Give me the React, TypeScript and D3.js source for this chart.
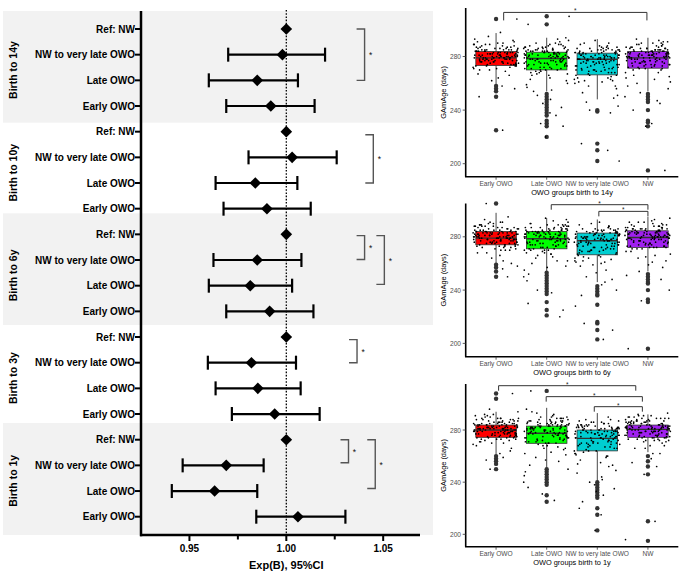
import React from "react";
import * as d3 from "d3";

// ---------------- Forest plot data ----------------
const forestGroups = ["Birth to 14y", "Birth to 10y", "Birth to 6y", "Birth to 3y", "Birth to 1y"];
const forestRows = ["Ref: NW", "NW to very late OWO", "Late OWO", "Early OWO"];
const estimates = [
  [1.0, 0.998, 0.985, 0.992],
  [1.0, 1.003, 0.984, 0.99],
  [1.0, 0.985, 0.9814, 0.9914],
  [1.0, 0.982, 0.9853, 0.994],
  [1.0, 0.969, 0.963, 1.006],
];
const lowerCI = [
  [null, 0.97, 0.96, 0.969],
  [null, 0.9805, 0.9635, 0.9676],
  [null, 0.9624, 0.96, 0.969],
  [null, 0.9595, 0.9635, 0.9719],
  [null, 0.9465, 0.9409, 0.9845],
];
const upperCI = [
  [null, 1.02, 1.006, 1.0146],
  [null, 1.026, 1.0057, 1.0126],
  [null, 1.0078, 1.003, 1.014],
  [null, 1.005, 1.0074, 1.0172],
  [null, 0.9883, 0.985, 1.0305],
];
// shaded facets: [firstRow, lastRow] extents in row units
const shadedBands = [
  [-0.7, 3.65],
  [7.18, 11.53],
  [15.35, 19.71],
];
// significance brackets: [group, fromRow, toRow, x value]
const forestBrackets = [
  [0, 0, 2, 1.0404],
  [1, 0.12, 2, 1.0449],
  [2, 0.05, 0.98, 1.0404],
  [2, 0.05, 1.95, 1.0506],
  [3, 0.1, 1.0, 1.0365],
  [4, 0.0, 0.9, 1.0321],
  [4, 0.0, 1.9, 1.0459],
];
const forestMajorTicks = [0.95, 1.0, 1.05];
const forestMinorTicks = [0.975, 1.025];

// ---------------- Box plot data ----------------
const boxCategories = ["Early OWO", "Late OWO", "NW to very late OWO", "NW"];
const boxColors = ["#FF0000", "#00FF00", "#00CED1", "#A020F0"];
const boxTitles = ["OWO groups birth to 14y", "OWO groups birth to 6y", "OWO groups birth to 1y"];
const boxYTicks = [200, 240, 280];

// [lower whisker, q1, median, q3, upper whisker]
const stats14 = [
  [259, 273.3, 279, 283.7, 297.5],
  [254, 270, 278.5, 283.2, 294],
  [248, 266.3, 278, 282.5, 293],
  [254, 271.3, 279, 283.7, 294],
];
const stats6 = [
  [260, 274, 279, 284, 298],
  [254, 271, 278.5, 284, 294],
  [246, 266.5, 277, 282.8, 293],
  [254, 272, 279.5, 284.5, 295],
];
const stats1 = [
  [261, 274.4, 280, 283.8, 294],
  [251, 269.8, 277.5, 283, 297],
  [241, 264, 273.6, 280, 293],
  [263, 274.4, 280.5, 283.8, 292],
];

const outliers14 = [
  [308, 258, 256, 254, 250, 225],
  [310, 304, 252, 250, 248, 246, 244, 242, 240, 238, 236, 232, 230, 228, 220],
  [240, 239, 215, 210, 202],
  [252, 250, 248, 246, 240, 232, 231, 228, 195],
];
const outliers6 = [
  [305, 259, 257, 254, 250],
  [253, 251, 249, 247, 245, 243, 241, 239, 237, 231, 225, 221],
  [243, 241, 239, 237, 236, 229, 216, 215, 210, 203],
  [252, 250, 248, 246, 245, 240, 233, 231, 196],
];
const outliers1 = [
  [308, 304, 260, 258, 256, 254, 250],
  [310, 250, 248, 246, 244, 242, 240, 238, 230, 225],
  [240, 238, 236, 234, 232, 230, 228, 220, 215, 203],
  [260, 256, 252, 246, 210, 195],
];

const jitterOffsets = [
  -0.31, 0.12, 0.38, -0.05, 0.27, -0.42, 0.03, 0.21, -0.18, 0.35, -0.26, 0.09, -0.39, 0.17, -0.11,
  0.3, -0.02, 0.41, -0.34, 0.06, 0.24, -0.21, 0.14, -0.37, 0.33, -0.08, 0.19, -0.29, 0.4, -0.14,
  0.01, -0.24, 0.28, -0.4, 0.11, 0.36, -0.16, 0.22, -0.33, 0.07, -0.04, 0.31, -0.27, 0.16, -0.12,
  0.39, -0.36, 0.04, 0.25, -0.2, 0.34, -0.07, 0.13, -0.41, 0.2, -0.3, 0.08, 0.37, -0.17, 0.26,
];

// dense core of each group's cloud (inside the box region)
const coreEarly = [278,282,275,285,280,273,288,279,283,276,281,286,274,279,284,277,290,272,282,278,285,280,276,283,279,287,274,281,277,284,280,275,289,282,278,271,284,279,286,281,276,283,278,288,273,280,285,277,282,279,291,275,283,280,286,278,274,281,284,279,270,287,282,277,285,280,276,289,281,283];
const coreLate = [279,284,272,281,287,275,283,270,280,285,277,282,268,286,279,274,283,289,271,280,284,276,281,273,287,278,283,269,285,280,275,282,290,277,272,284,279,286,274,281,267,283,278,288,276,282,271,285,280,277,284,273,281,287,279,275,283,270,286,278,282,276,289,274,281,284,266,280,285,278];
const coreMid = [276,281,268,279,284,272,278,265,282,275,280,270,286,277,263,281,274,283,269,278,285,271,280,276,267,283,273,279,288,270,281,275,264,284,278,272,280,286,269,277,282,274,279,261,283,276,271,285,278,273,281,268,284,275,279,266,282,277,287,270,280,274,283,262,278,285,272,279,276,281];
const coreNW = [280,285,275,282,288,278,283,273,281,286,277,284,272,280,287,279,283,276,289,274,282,285,278,281,271,284,279,286,276,283,280,274,288,281,277,285,273,282,279,290,275,283,280,286,272,281,278,284,276,289,282,279,274,285,280,283,277,287,273,281,284,278,286,275,282,280,291,276,283,279];
const cores = [coreEarly, coreLate, coreMid, coreNW];

const pts14Early = [281,276,284,279,287,272,290,283,278,274,285,280,293,269,282,277,286,275,291,281,266,284,279,273,288,262,280,276,283,295,271,278,285,289,258,282,274,280,267,286,279,292,276,283,270,281,287,264,278,284,256,280,275,289,282,277,298,273,285,279,250,225,308];
const pts14Late = [282,275,288,270,279,285,264,291,277,283,259,273,287,280,268,292,276,284,254,279,271,286,262,281,289,274,248,283,278,266,290,272,285,257,280,276,269,287,245,282,275,293,263,279,284,251,271,288,277,260,283,242,286,274,280,267,294,278,255,281,236,230,228,220,310,304,238];
const pts14Mid = [280,271,285,266,278,290,262,283,274,287,258,276,282,269,292,279,253,285,273,281,264,288,277,246,284,270,279,260,286,275,283,251,277,268,289,281,243,274,285,263,279,290,272,256,283,276,266,287,280,249,275,284,261,278,238,282,270,286,258,279,210,215,202,240];
const pts14NW = [281,274,286,270,279,290,265,283,277,288,260,281,273,285,268,292,278,284,256,280,271,287,263,282,276,289,250,279,285,272,283,266,290,277,247,281,275,286,261,280,284,270,293,276,258,282,279,268,287,274,253,283,278,291,264,280,285,271,245,282,230,228,195,240];

const pts6Early = [279,284,273,288,277,282,270,291,280,275,286,268,283,278,293,272,281,287,264,279,285,274,290,276,283,260,280,287,271,278,295,282,266,285,277,289,273,281,258,284,279,270,288,275,283,262,280,286,274,291,278,268,284,281,256,276,288,272,283,279,250,305];
const pts6Late = [281,274,287,268,280,285,262,290,276,283,257,271,286,279,265,293,277,284,252,280,270,288,260,282,275,291,247,283,278,264,289,272,286,255,279,274,267,288,240,282,276,292,262,280,285,250,270,289,277,258,284,238,287,273,281,225,294,278,230,282,220];
const pts6Mid = [279,270,284,264,277,289,260,282,273,286,255,275,281,267,291,278,250,284,272,280,262,287,276,244,283,269,278,258,285,274,282,248,276,266,288,280,240,273,284,261,278,290,271,253,282,275,265,286,279,246,274,283,259,277,236,281,269,285,215,210,228,203];
const pts6NW = [282,275,287,271,280,291,266,284,278,289,261,282,274,286,269,293,279,285,257,281,272,288,264,283,277,290,251,280,286,273,284,267,291,278,248,282,276,287,262,281,285,271,294,277,259,283,280,269,288,275,254,284,279,292,265,281,286,272,232,240,196];

const pts1Early = [281,285,276,289,279,283,272,292,281,277,287,270,284,280,294,274,282,288,266,280,286,276,291,278,284,262,281,288,273,279,296,283,268,286,278,290,275,282,259,285,280,271,289,277,284,264,281,287,275,292,279,269,285,282,257,277,289,273,284,280,250,308];
const pts1Late = [282,274,288,268,280,286,262,291,276,284,256,271,287,279,265,294,277,285,250,281,270,289,259,283,275,292,245,284,278,263,290,272,287,253,280,274,266,289,240,283,276,293,261,281,286,248,270,290,277,257,285,236,288,273,282,226,296,278,231,283,310];
const pts1Mid = [277,266,282,259,274,287,254,280,269,284,249,271,279,262,290,275,244,282,267,278,257,285,272,238,281,264,276,252,283,270,280,242,274,260,286,277,233,269,282,255,275,288,267,247,280,271,260,284,276,240,270,281,253,274,230,279,264,283,220,215,203,235,225];
const pts1NW = [282,277,287,274,281,291,270,285,279,289,266,283,276,287,272,292,280,286,262,282,275,289,268,284,279,290,258,281,287,276,285,271,291,279,255,283,278,288,266,282,286,274,293,278,262,284,281,272,289,277,252,285,280,290,268,282,287,275,246,210,196];

// brackets: [fromCat, toCat, level (days)]
const sigBrackets14 = [[0.15, 2.98, 312.9]];
const sigBrackets6 = [
  [1.09, 3.0, 304.1],
  [2.03, 3.0, 299.1],
];
const sigBrackets1 = [
  [0.05, 2.76, 314.0],
  [0.99, 2.89, 305.6],
  [1.94, 2.89, 297.9],
];

const panels = [
  { stats: stats14, outliers: outliers14, pts: [pts14Early, pts14Late, pts14Mid, pts14NW], brackets: sigBrackets14, top: 8, bottom: 176.7, domain: [190.3, 316.2], leg: 8 },
  { stats: stats6, outliers: outliers6, pts: [pts6Early, pts6Late, pts6Mid, pts6NW], brackets: sigBrackets6, top: 203.5, bottom: 356.7, domain: [190, 305], leg: 5 },
  { stats: stats1, outliers: outliers1, pts: [pts1Early, pts1Late, pts1Mid, pts1NW], brackets: sigBrackets1, top: 384, bottom: 546.7, domain: [190.5, 315.3], leg: 5 },
];

const SANS = "'Liberation Sans', Arial, Helvetica, sans-serif";

function ForestPlot() {
  const x = d3.scaleLinear().domain([0.925, 1.069]).range([141, 420]);
  const y = d3.scaleLinear().domain([0, 19]).range([29, 516.7]);
  const axisY = 535;
  const d = 5.8;
  return (
    <g fontFamily={SANS}>
      {shadedBands.map((b, i) => (
        <rect key={"b" + i} x={3} y={y(b[0])} width={430} height={y(b[1]) - y(b[0])} fill="#F2F2F2" />
      ))}
      <line x1={x(1)} x2={x(1)} y1={10} y2={axisY} stroke="#000" strokeWidth={1.3} strokeDasharray="1.6,1.6" />
      {forestGroups.map((g, gi) => (
        <text
          key={"fl" + gi}
          transform={`translate(13,${y(gi * 4 + 1.6)}) rotate(-90)`}
          textAnchor="middle"
          dominantBaseline="central"
          fontWeight="bold"
          fontSize={10.5}
          fill="#000"
        >
          {g}
        </text>
      ))}
      {forestGroups.map((g, gi) =>
        forestRows.map((r, ri) => {
          const row = gi * 4 + ri;
          const yy = y(row);
          const est = estimates[gi][ri];
          const lo = lowerCI[gi][ri];
          const hi = upperCI[gi][ri];
          return (
            <g key={`r${gi}-${ri}`}>
              <text x={135} y={yy} textAnchor="end" dominantBaseline="central" fontWeight="bold" fontSize={10} fill="#000">
                {r}
              </text>
              <line x1={135} x2={141} y1={yy} y2={yy} stroke="#000" strokeWidth={2} />
              {lo !== null && hi !== null && (
                <g stroke="#000" strokeWidth={2.2}>
                  <line x1={x(lo)} x2={x(hi)} y1={yy} y2={yy} />
                  <line x1={x(lo)} x2={x(lo)} y1={yy - 7} y2={yy + 7} />
                  <line x1={x(hi)} x2={x(hi)} y1={yy - 7} y2={yy + 7} />
                </g>
              )}
              <path
                d={`M${x(est)},${yy - d} L${x(est) + d},${yy} L${x(est)},${yy + d} L${x(est) - d},${yy} Z`}
                fill="#000"
              />
            </g>
          );
        })
      )}
      {forestBrackets.map((b, i) => {
        const [gi, r0, r1, xv] = b;
        const y0 = y(gi * 4 + r0);
        const y1 = y(gi * 4 + r1);
        const xx = x(xv);
        return (
          <g key={"fb" + i}>
            <path d={`M${xx - 8},${y0} L${xx},${y0} L${xx},${y1} L${xx - 8},${y1}`} fill="none" stroke="#555" strokeWidth={1.4} />
            <text x={xx + 6} y={(y0 + y1) / 2 + 3.5} fontSize={8.5} fill="#111" textAnchor="middle">
              *
            </text>
          </g>
        );
      })}
      <line x1={141} x2={141} y1={11} y2={axisY + 1.2} stroke="#000" strokeWidth={2.5} />
      <line x1={140} x2={420} y1={axisY} y2={axisY} stroke="#000" strokeWidth={2.5} />
      {forestMajorTicks.map((t) => (
        <g key={"mt" + t}>
          <line x1={x(t)} x2={x(t)} y1={axisY} y2={axisY + 6} stroke="#000" strokeWidth={2} />
          <text x={x(t)} y={axisY + 17} textAnchor="middle" fontWeight="bold" fontSize={10} fill="#000">
            {d3.format(".2f")(t)}
          </text>
        </g>
      ))}
      {forestMinorTicks.map((t) => (
        <line key={"mn" + t} x1={x(t)} x2={x(t)} y1={axisY} y2={axisY + 4.5} stroke="#000" strokeWidth={2} />
      ))}
      <text x={x(1)} y={569} textAnchor="middle" fontWeight="bold" fontSize={11} fill="#000">
        Exp(B), 95%CI
      </text>
    </g>
  );
}

function BoxPanel({ p, idx }: { p: any; idx: number }) {
  const x = d3.scaleLinear().domain([-0.6, 3.6]).range([465.7, 678.3]);
  const y = d3.scaleLinear().domain(p.domain).range([p.bottom, p.top]);
  const hw = 0.4;
  const n = jitterOffsets.length;
  return (
    <g fontFamily={SANS}>
      {boxCategories.map((c, ci) => {
        const [wl, q1, med, q3, wh] = p.stats[ci];
        const cx = x(ci);
        return (
          <g key={"bx" + ci}>
            <line x1={cx} x2={cx} y1={y(wh)} y2={y(q3)} stroke="#333" strokeWidth={0.9} />
            <line x1={cx} x2={cx} y1={y(q1)} y2={y(wl)} stroke="#333" strokeWidth={0.9} />
            <rect x={x(ci - hw)} y={y(q3)} width={x(ci + hw) - x(ci - hw)} height={y(q1) - y(q3)} fill={boxColors[ci]} stroke="#333" strokeWidth={0.8} />
            <line x1={x(ci - hw)} x2={x(ci + hw)} y1={y(med)} y2={y(med)} stroke="#333" strokeWidth={1.4} />
            {p.outliers[ci].map((v: number, k: number) => (
              <circle key={"o" + k} cx={cx} cy={y(v)} r={2.2} fill="#333" />
            ))}
            {cores[ci].map((v: number, k: number) => {
              const off = jitterOffsets[(k * 7 + ci * 5 + idx * 11) % n];
              return <circle key={"c" + k} cx={x(ci + off * 1.05)} cy={y(v)} r={0.85} fill="#000" />;
            })}
            {p.pts[ci].map((v: number, k: number) => {
              const off = jitterOffsets[(k + ci * 13 + idx * 7) % n];
              return <circle key={"j" + k} cx={x(ci + off * 1.08)} cy={y(v)} r={0.85} fill="#000" />;
            })}
          </g>
        );
      })}
      {p.brackets.map((b: number[], i: number) => {
        const [a, c, lv] = b;
        const yy = y(lv);
        return (
          <g key={"sb" + i}>
            <path d={`M${x(a)},${yy + p.leg} L${x(a)},${yy} L${x(c)},${yy} L${x(c)},${yy + p.leg}`} fill="none" stroke="#333" strokeWidth={1} />
            <text x={(x(a) + x(c)) / 2} y={yy + 1} textAnchor="middle" fontSize={6.5} fill="#222">
              *
            </text>
          </g>
        );
      })}
      <line x1={465.7} x2={465.7} y1={p.top} y2={p.bottom} stroke="#000" strokeWidth={1.6} />
      <line x1={465} x2={678.3} y1={p.bottom} y2={p.bottom} stroke="#000" strokeWidth={1.6} />
      {boxYTicks.map((t) => (
        <g key={"yt" + t}>
          <line x1={462.7} x2={465.7} y1={y(t)} y2={y(t)} stroke="#333" strokeWidth={0.8} />
          <text x={461} y={y(t)} textAnchor="end" dominantBaseline="central" fontSize={6.6} fill="#4D4D4D">
            {t}
          </text>
        </g>
      ))}
      {boxCategories.map((c, ci) => (
        <g key={"xt" + ci}>
          <line x1={x(ci)} x2={x(ci)} y1={p.bottom} y2={p.bottom + 3} stroke="#333" strokeWidth={0.8} />
          <text x={x(ci)} y={p.bottom + 9.5} textAnchor="middle" fontSize={6.6} fill="#4D4D4D">
            {c}
          </text>
        </g>
      ))}
      <text x={(465.7 + 678.3) / 2} y={p.bottom + 18.6} textAnchor="middle" fontSize={7.4} fill="#000">
        {boxTitles[idx]}
      </text>
      <text
        transform={`translate(443,${(p.top + p.bottom) / 2}) rotate(-90)`}
        textAnchor="middle"
        dominantBaseline="central"
        fontSize={7.4}
        fill="#000"
      >
        GAmAge (days)
      </text>
    </g>
  );
}

export default function App() {
  return (
    <svg width={685} height={576} style={{ position: "absolute", left: 0, top: 0, background: "#fff" }}>
      <rect x={0} y={0} width={685} height={576} fill="#fff" />
      <ForestPlot />
      {panels.map((p, i) => (
        <BoxPanel key={i} p={p} idx={i} />
      ))}
    </svg>
  );
}
